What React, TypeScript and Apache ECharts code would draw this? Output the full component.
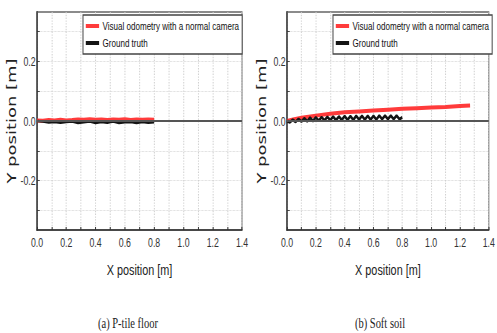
import React, { useEffect, useRef } from "react";
import * as echarts from "echarts";

// ---------- data ----------
const seriesNames = ["Visual odometry with a normal camera", "Ground truth"];
const captions = ["(a) P-tile floor", "(b) Soft soil"];
const xTickLabels = ["0.0", "0.2", "0.4", "0.6", "0.8", "1.0", "1.2", "1.4"];
const yTickLabels = [-0.2, 0, 0.2];
const yGridValues = [-0.3, -0.2, -0.1, 0, 0.1, 0.2, 0.3];

// (a) P-tile floor
const tileX = [0, 0.04, 0.08, 0.12, 0.16, 0.2, 0.24, 0.28, 0.32, 0.36, 0.4, 0.44, 0.48, 0.52, 0.56, 0.6, 0.64, 0.68, 0.72, 0.76, 0.8];
const tileVO = [0.002, 0.001, 0.003, 0.002, 0.004, 0.002, 0.003, 0.005, 0.004, 0.006, 0.004, 0.005, 0.003, 0.005, 0.004, 0.006, 0.003, 0.005, 0.004, 0.005, 0.004];
const tileGT = [0, -0.002, -0.005, -0.003, -0.006, -0.003, -0.002, -0.007, -0.004, -0.002, -0.007, -0.003, -0.006, -0.002, -0.007, -0.004, -0.003, -0.007, -0.003, -0.006, -0.004];

// (b) Soft soil
const soilVOX = [0, 0.05, 0.1, 0.2, 0.3, 0.4, 0.5, 0.6, 0.7, 0.8, 0.9, 1.0, 1.1, 1.2, 1.27];
const soilVO = [0, 0.006, 0.011, 0.018, 0.024, 0.029, 0.032, 0.035, 0.038, 0.041, 0.043, 0.045, 0.047, 0.05, 0.052];
const soilGTX = [0, 0.02, 0.04, 0.06, 0.08, 0.1, 0.12, 0.14, 0.16, 0.18, 0.2, 0.22, 0.24, 0.26, 0.28, 0.3, 0.32, 0.34, 0.36, 0.38, 0.4, 0.42, 0.44, 0.46, 0.48, 0.5, 0.52, 0.54, 0.56, 0.58, 0.6, 0.62, 0.64, 0.66, 0.68, 0.7, 0.72, 0.74, 0.76, 0.78, 0.8];
const soilGT = [0, -0.004, 0.004, -0.003, 0.007, -0.002, 0.009, -0.001, 0.011, 0.0, 0.012, 0.001, 0.013, 0.002, 0.014, 0.003, 0.015, 0.003, 0.015, 0.004, 0.016, 0.004, 0.016, 0.004, 0.017, 0.005, 0.017, 0.005, 0.017, 0.005, 0.017, 0.005, 0.018, 0.006, 0.018, 0.006, 0.018, 0.006, 0.018, 0.006, 0.012];

// ---------- styling ----------
// The reference figure is horizontally condensed; the chart is laid out at a
// wider size and squeezed with a CSS scaleX so the text looks condensed too.
const S = 0.7;
const W = 497;
const H = 333;
const u = (px: number) => px / S;

const SANS = "'Liberation Sans', Arial, sans-serif";
const RED = "#ff3b3b";
const BLACK = "#141414";

const zip = (xs: number[], ys: number[]) => xs.map((x, i) => [x, ys[i]]);

export default function App() {
  const ref = useRef<HTMLDivElement>(null);
  useEffect(() => {
    if (!ref.current) return;
    const chart = echarts.init(ref.current, undefined, { renderer: "svg" });
    const grids = [
      { left: u(37), top: 12, width: u(205), height: 218 },
      { left: u(287), top: 12, width: u(206), height: 218 },
    ];
    const xAxis = grids.map((_, i) => ({
      type: "value",
      gridIndex: i,
      min: 0,
      max: 1.4,
      interval: 0.1,
      name: "X position [m]",
      nameLocation: "middle",
      nameGap: 32,
      nameTextStyle: { fontFamily: SANS, fontSize: 15.5, color: "#222" },
      axisLine: { show: true, onZero: false, lineStyle: { color: "#333", width: 1.5 } },
      axisTick: { show: true, inside: true, length: 3, lineStyle: { color: "#333", width: 1.4 } },
      axisLabel: {
        margin: 6,
        fontFamily: SANS,
        fontSize: 12.5,
        color: "#333",
        formatter: (v: number) => {
          const k = Math.round(v * 10);
          return k % 2 === 0 ? xTickLabels[k / 2] : "";
        },
      },
      splitLine: { show: true, lineStyle: { color: "#cfcfcf", type: "dotted", width: 1.4 } },
    }));
    const yAxis = grids.map((_, i) => ({
      type: "value",
      gridIndex: i,
      min: -0.365,
      max: 0.365,
      name: "Y position [m]",
      nameLocation: "middle",
      nameRotate: 90,
      nameGap: 22,
      nameTextStyle: { fontFamily: "'DejaVu Sans', sans-serif", fontSize: 18, color: "#222" },
      axisLine: { show: true, onZero: false, lineStyle: { color: "#333", width: 2 } },
      axisTick: { show: true, inside: true, length: 4, customValues: yGridValues, lineStyle: { color: "#333" } },
      axisLabel: {
        margin: 2,
        fontFamily: SANS,
        fontSize: 12.5,
        color: "#333",
        customValues: yTickLabels,
        formatter: (v: number) => v.toFixed(1),
      },
      splitLine: { show: true, lineStyle: { color: "#cfcfcf", type: "dotted", width: 1 } },
    }));
    const zeroLine = (i: number) => ({
      type: "line",
      xAxisIndex: i,
      yAxisIndex: i,
      data: [],
      z: 1,
      silent: true,
      markLine: {
        silent: true,
        symbol: "none",
        label: { show: false },
        lineStyle: { color: "#555", width: 2, type: "solid" },
        data: [{ yAxis: 0 }],
      },
    });
    const line = (name: string, i: number, data: number[][], color: string, width: number, z: number) => ({
      type: "line",
      name,
      xAxisIndex: i,
      yAxisIndex: i,
      data,
      showSymbol: false,
      symbol: "none",
      z,
      lineStyle: { color, width },
      itemStyle: { color },
    });
    const legend = (left: number) => ({
      left,
      top: 15,
      orient: "vertical",
      data: seriesNames,
      backgroundColor: "#fff",
      borderColor: "#444",
      borderWidth: 1.4,
      borderRadius: 0,
      padding: [5, 4, 5, 4],
      itemGap: 5,
      itemWidth: 19,
      itemHeight: 4,
      icon: "rect",
      textStyle: { fontFamily: SANS, fontSize: 11.5, color: "#111" },
    });
    chart.setOption({
      animation: false,
      backgroundColor: "#fff",
      grid: grids.map((g) => ({ ...g, show: true, borderColor: "#666", borderWidth: 1.4, backgroundColor: "transparent" })),
      xAxis,
      yAxis,
      legend: [legend(u(83)), legend(u(333))],
      series: [
        zeroLine(0),
        zeroLine(1),
        line(seriesNames[0], 0, zip(tileX, tileVO), RED, 4, 3),
        line(seriesNames[1], 0, zip(tileX, tileGT), BLACK, 2.5, 4),
        line(seriesNames[0], 1, zip(soilVOX, soilVO), RED, 4, 3),
        line(seriesNames[1], 1, zip(soilGTX, soilGT), BLACK, 3, 4),
      ],
      graphic: [
        { type: "text", x: u(128), y: 323, style: { text: captions[0], font: "15px 'Liberation Serif', serif", fill: "#222", textAlign: "center", textVerticalAlign: "middle" } },
        { type: "text", x: u(380), y: 323, style: { text: captions[1], font: "15px 'Liberation Serif', serif", fill: "#222", textAlign: "center", textVerticalAlign: "middle" } },
      ],
    });
    return () => chart.dispose();
  }, []);
  return (
    <div
      ref={ref}
      style={{
        position: "fixed",
        left: 0,
        top: 0,
        width: u(W),
        height: H,
        transform: `scaleX(${S})`,
        transformOrigin: "0 0",
      }}
    />
  );
}
